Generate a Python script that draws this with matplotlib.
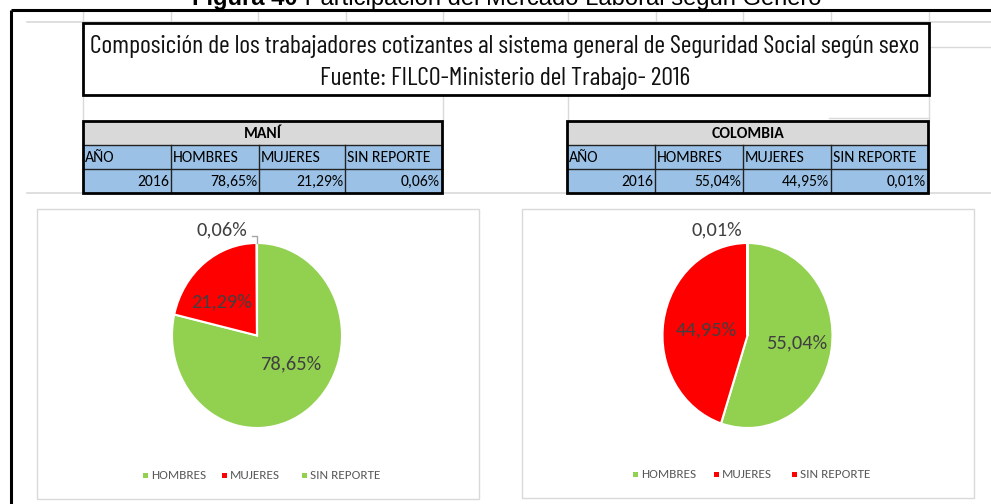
import matplotlib
matplotlib.use('Agg')
import matplotlib.pyplot as plt
from matplotlib.patches import Rectangle
from matplotlib import font_manager

# ---------------- data ----------------
categories = ['HOMBRES', 'MUJERES', 'SIN REPORTE']
table_header = ['AÑO', 'HOMBRES', 'MUJERES', 'SIN REPORTE']
year = '2016'
mani_values = [78.65, 21.29, 0.06]
colombia_values = [55.04, 44.95, 0.01]
mani_colors = ['#92D050', '#FF0000', '#92D050']
colombia_colors = ['#92D050', '#FF0000', '#FF0000']
caption_bold = 'Figura 40'
caption_rest = ' Participación del Mercado Laboral según Género'
title_line1 = 'Composición de los trabajadores cotizantes al sistema general de Seguridad Social según sexo'
title_line2 = 'Fuente: FILCO-Ministerio del Trabajo- 2016'


def fmt(v):
    return f'{v:.2f}%'.replace('.', ',')


def pick(cands):
    for c in cands:
        try:
            font_manager.findfont(c, fallback_to_default=False)
            return c
        except Exception:
            pass
    return 'DejaVu Sans'


NARROW = pick(['Barlow Condensed', 'Barlow Semi Condensed', 'Saira ExtraCondensed',
               'Sofia Sans Extra Condensed', 'Saira Condensed', 'DejaVu Sans'])
BODY = pick(['Carlito', 'Lato', 'Open Sans', 'DejaVu Sans'])
ARIAL = pick(['Liberation Sans', 'Arimo', 'DejaVu Sans'])

W, H = 991, 504
fig = plt.figure(figsize=(W / 100, H / 100), dpi=100)
fig.patch.set_facecolor('white')
bg = fig.add_axes([0, 0, 1, 1])
bg.set_xlim(0, W)
bg.set_ylim(H, 0)
bg.axis('off')
renderer = fig.canvas.get_renderer()


def size_for(s, target_w, family, weight='normal'):
    t = fig.text(0, 0, s, fontsize=10, family=family, fontweight=weight)
    w = t.get_window_extent(renderer=renderer).width
    t.remove()
    return 10 * target_w / w


def fit(t, target_w):
    bb = t.get_window_extent(renderer=renderer)
    t.set_fontsize(t.get_fontsize() * target_w / bb.width)


GRID = '#D9D9D9'
# spreadsheet gridlines
bg.plot([27, W], [22, 22], color=GRID, lw=1.2, zorder=1)
for x in [83, 171, 258, 346, 443, 568, 656, 743, 831, 929]:
    bg.plot([x, x], [10, 22], color=GRID, lw=1, zorder=1)
bg.plot([83, 83], [96, 121], color=GRID, lw=1, zorder=1)
bg.plot([929, 929], [22, 121], color=GRID, lw=1, zorder=1)
bg.plot([929, W], [47, 47], color=GRID, lw=1, zorder=1)
bg.plot([829, 929], [118, 118], color=GRID, lw=1, zorder=1)
for x in [443, 568]:
    bg.plot([x, x], [96, 121], color=GRID, lw=1, zorder=1)
bg.plot([27, W], [193, 193], color=GRID, lw=1.2, zorder=1)

# outer frame
bg.plot([11, W], [10, 10], color='black', lw=2.2, zorder=5, solid_capstyle='butt')
bg.plot([11, 11], [10, H], color='black', lw=2.2, zorder=5, solid_capstyle='butt')

# caption (clipped at the top, as in the reference)
t1 = bg.text(192, 5, caption_bold, fontsize=14, fontweight='bold', family=ARIAL,
             ha='left', va='baseline', color='black')
t2 = bg.text(192, 5, caption_rest, fontsize=14, family=ARIAL,
             ha='left', va='baseline', color='black')
w1 = t1.get_window_extent(renderer=renderer).width
w2 = t2.get_window_extent(renderer=renderer).width
s = (825 - 192) / (w1 + w2)
t1.set_fontsize(14 * s)
t2.set_fontsize(14 * s)
t2.set_x(192 + w1 * s)

# title box
bg.add_patch(Rectangle((83, 23), 929 - 83, 95 - 23, fill=True, facecolor='white',
                       edgecolor='black', lw=2, zorder=3))
tt1 = bg.text(505, 46, title_line1, fontsize=16, family=NARROW, ha='center', va='center',
              color='#111111', zorder=4)
fit(tt1, 836)
tt2 = bg.text(505, 79, title_line2, fontsize=tt1.get_fontsize(), family=NARROW, ha='center',
              va='center', color='#111111', zorder=4)

TABLE_FS = size_for('HOMBRES', 66, BODY)
LEGEND_FS = size_for('HOMBRES', 55, BODY)
LABEL_FS = size_for('78,65%', 61, BODY)


# tables
def draw_table(x_edges, name, values):
    x0, x1 = x_edges[0], x_edges[-1]
    y0, y1, y2, y3 = 121, 145, 169, 193
    bg.add_patch(Rectangle((x0, y0), x1 - x0, y1 - y0, facecolor='#D9D9D9', edgecolor='none', zorder=3))
    bg.add_patch(Rectangle((x0, y1), x1 - x0, y3 - y1, facecolor='#9BC2E6', edgecolor='none', zorder=3))
    for y in [y1, y2]:
        bg.plot([x0, x1], [y, y], color='#222222', lw=1, zorder=4)
    for x in x_edges[1:-1]:
        bg.plot([x, x], [y1, y3], color='#222222', lw=1, zorder=4)
    bg.add_patch(Rectangle((x0, y0), x1 - x0, y3 - y0, fill=False, edgecolor='black', lw=2, zorder=5))
    bg.text((x0 + x1) / 2, (y0 + y1) / 2 + 1, name, fontsize=TABLE_FS, fontweight='bold', family=BODY,
            ha='center', va='center', color='black', zorder=6)
    for i, lab in enumerate(table_header):
        bg.text(x_edges[i] + 2, (y1 + y2) / 2 + 1, lab, fontsize=TABLE_FS, family=BODY,
                ha='left', va='center', color='black', zorder=6)
    row = [year] + [fmt(v) for v in values]
    for i, lab in enumerate(row):
        bg.text(x_edges[i + 1] - 2, (y2 + y3) / 2 + 1, lab, fontsize=TABLE_FS, family=BODY,
                ha='right', va='center', color='black', zorder=6)


draw_table([83, 171, 259, 345, 442], 'MANÍ', mani_values)
draw_table([567, 655, 743, 831, 928], 'COLOMBIA', colombia_values)

# chart areas
bg.add_patch(Rectangle((37, 209), 479 - 37, 499 - 209, fill=False, edgecolor='#D9D9D9', lw=1, zorder=2))
bg.add_patch(Rectangle((522, 209), 974 - 522, 498 - 209, fill=False, edgecolor='#D9D9D9', lw=1, zorder=2))


def pie_axes(cx, cy, rx, ry):
    L = 1.25
    w, h = 2 * L * rx, 2 * L * ry
    return fig.add_axes([(cx - w / 2) / W, (H - cy - h / 2) / H, w / W, h / H])


def draw_pie(cx, cy, values, colors, labels_pos, small_leader=False):
    ax = pie_axes(cx, cy, 85, 92.5)
    ax.pie(values, colors=colors, startangle=90, counterclock=False,
           wedgeprops=dict(edgecolor='white', linewidth=1.5))
    ax.set_aspect('auto')
    ax.set_xlim(-1.25, 1.25)
    ax.set_ylim(-1.25, 1.25)
    ax.axis('off')
    for v, (lx, ly) in zip(values, labels_pos):
        ax.text(lx, ly, fmt(v), fontsize=LABEL_FS, family=BODY, ha='center', va='center',
                color='#404040')
    if small_leader:
        ax.plot([0, 0, -0.06], [1.0, 1.08, 1.08], color='#A6A6A6', lw=1)
    return ax


# label positions in pie-axes units
mani_label_pos = [(0.39, -0.31), (-0.42, 0.36), (-0.41, 1.14)]
col_label_pos = [(0.58, -0.08), (-0.48, 0.06), (-0.36, 1.14)]

draw_pie(257, 335.5, mani_values, mani_colors, mani_label_pos, small_leader=True)
draw_pie(747.5, 335.5, colombia_values, colombia_colors, col_label_pos)


# legends
def draw_legend(marker_xs, y, colors):
    for mx, lab, c in zip(marker_xs, categories, colors):
        bg.add_patch(Rectangle((mx - 2.5, y - 2.5), 5, 5, facecolor=c, edgecolor='none', zorder=6))
        bg.text(mx + 6, y + 0.5, lab, fontsize=LEGEND_FS, family=BODY, ha='left', va='center',
                color='#595959', zorder=6)


draw_legend([145, 224, 304], 475, mani_colors)
draw_legend([635, 716, 794], 474, colombia_colors)

fig.savefig('out.png', dpi=100, facecolor='white')
